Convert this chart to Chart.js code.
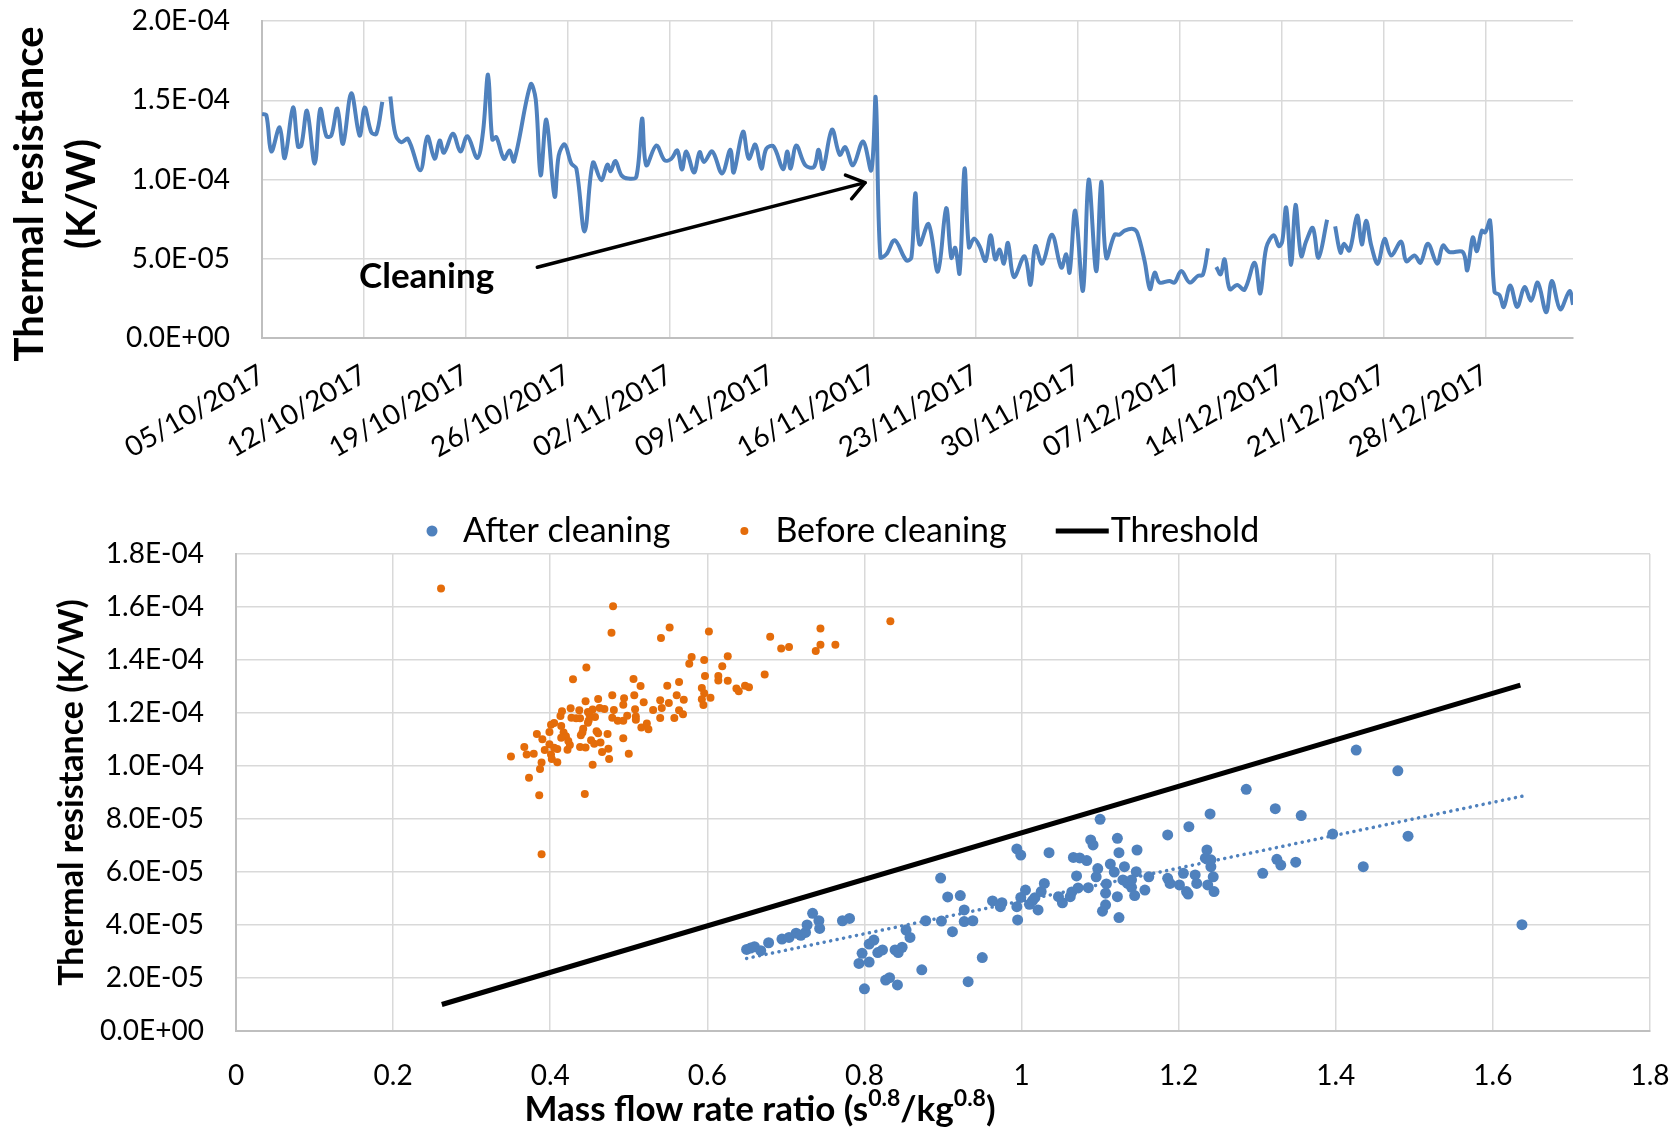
<!DOCTYPE html>
<html>
<head>
<meta charset="utf-8">
<title>Thermal resistance before and after cleaning</title>
<script src="https://cdn.jsdelivr.net/npm/chart.js@4.4.1/dist/chart.umd.min.js"></script>
<style>
  html, body { margin: 0; padding: 0; background: #fff; }
  #wrap { position: relative; width: 1680px; height: 1129px; }
  #topBox { position: absolute; left: 0; top: 0; width: 1680px; height: 480px; }
  #bottomBox { position: absolute; left: 0; top: 480px; width: 1680px; height: 649px; }
</style>
</head>
<body>
<div id="wrap">
  <div id="topBox"><canvas id="timeChart"></canvas></div>
  <div id="bottomBox"><canvas id="flowChart"></canvas></div>
</div>
<script>
// values are in 1e-6 K/W
const UNIT = 1e-6;

// top chart: days since 05/10/2017, null = missing data
const dateTicks = ['05/10/2017', '12/10/2017', '19/10/2017', '26/10/2017', '02/11/2017', '09/11/2017',
  '16/11/2017', '23/11/2017', '30/11/2017', '07/12/2017', '14/12/2017', '21/12/2017', '28/12/2017'];

const dayOffsets = [
  0.00, 0.30, 0.64, 1.21, 1.56, 2.13, 2.47, 2.70, 3.09, 3.62, 4.00, 4.42, 4.76, 5.17, 5.56, 6.13, 6.70, 7.05, 7.50, 7.85, 8.26,
  8.50,
  8.81, 9.15, 9.57, 10.02, 10.87, 11.35, 11.85, 12.20, 12.49, 13.11, 13.62, 14.10, 14.78, 15.17, 15.52, 15.81, 16.09, 16.61,
  17.00, 17.30, 18.44, 18.79, 19.13, 19.52, 20.09, 20.37, 20.78, 21.24, 21.58, 22.15, 22.72, 23.29, 23.71, 23.93, 24.26,
  24.67, 25.12, 25.70, 26.09, 26.38, 27.07, 27.64, 28.10, 28.51, 28.83, 29.13, 29.66, 30.04, 30.34, 30.91, 31.58, 32.15,
  32.38, 33.02, 33.41, 33.87, 34.28, 34.62, 35.12, 35.77, 36.06, 36.29, 36.68, 37.30, 37.89, 38.21, 38.51, 39.13, 39.66,
  40.04, 40.57, 41.26, 41.83, 42.13, 42.45, 42.86, 43.43, 44.23, 44.58, 44.85, 45.14, 45.76, 46.40, 46.97, 47.32, 47.59,
  47.89, 48.23, 48.53, 48.87, 49.26, 49.67, 50.02, 50.34, 50.64, 50.93, 51.21, 51.62, 52.35, 52.76, 53.08, 53.56, 54.23,
  54.87, 55.21, 55.44, 55.83, 56.36, 56.75, 57.27, 57.61, 57.96, 58.53, 58.87, 59.22, 59.79, 60.09, 60.59, 60.96, 61.28,
  61.62, 62.30, 62.65, 63.11, 63.68, 64.25, 64.59, 64.94,
  65.20,
  65.51, 65.81, 66.08, 66.43, 66.95, 67.45, 68.14, 68.53, 68.94, 69.46, 69.81, 70.04, 70.31, 70.65, 70.95, 71.34, 71.68,
  72.14, 72.53, 73.12,
  73.40,
  73.67, 74.04, 74.27, 74.66, 75.18, 75.50, 75.80, 76.15, 76.60, 77.06, 77.52, 78.20, 78.55, 79.12, 79.53, 80.04, 80.68,
  81.07, 81.52, 82.44, 82.74, 83.12, 83.40, 83.74, 83.97, 84.31, 84.61, 84.95, 85.25, 85.69, 86.17, 86.67, 87.13, 87.58,
  88.16, 88.55, 89.12, 89.76, 90.00
];

const resistance = [
  141.3, 140.6, 117.7, 132.9, 113.5, 145.4, 120.8, 121.5, 143.3, 110.0, 144.4, 127.3, 127.7, 144.8, 122.5, 154.4, 127.7, 145.4, 129.8, 128.8, 149.0,
  null,
  152.3, 128.8, 123.5, 125.6, 105.8, 127.1, 113.1, 124.6, 116.9, 128.8, 117.7, 127.3, 113.5, 129.8, 166.2, 125.2, 126.7, 113.1,
  118.3, 111.5, 160.0, 150.6, 102.7, 137.7, 89.2, 115.2, 122.1, 110.0, 106.9, 67.3, 110.6, 99.6, 109.4, 105.2, 111.7,
  102.7, 100.6, 101.7, 138.5, 109.0, 121.5, 112.1, 113.1, 118.3, 106.3, 117.7, 104.4, 117.3, 111.0, 117.7, 103.8, 118.8,
  104.4, 130.2, 113.1, 122.1, 106.9, 119.4, 120.8, 106.5, 117.7, 106.9, 121.5, 109.0, 107.9, 118.8, 106.7, 131.5, 115.6,
  120.4, 109.0, 124.0, 105.8, 151.7, 51.1, 52.8, 61.7, 49.0, 50.8, 91.3, 59.0, 71.9, 41.9, 81.9, 50.6, 56.9,
  40.8, 106.9, 57.3, 62.7, 57.9, 48.6, 64.8, 49.6, 55.8, 46.9, 60.0, 38.5, 51.6, 33.5, 57.9, 46.9, 65.2,
  44.4, 52.8, 41.3, 80.3, 29.8, 100.0, 42.1, 98.5, 50.6, 65.2, 65.2, 67.7, 68.8, 66.3, 48.6, 30.8, 41.3,
  35.0, 36.0, 35.0, 42.3, 35.0, 39.2, 39.8, 56.5,
  null,
  44.8, 40.2, 49.6, 30.8, 33.5, 30.5, 47.5, 28.1, 56.9, 64.8, 57.9, 61.0, 82.3, 46.1, 84.0, 51.7, 61.0,
  69.4, 50.6, 74.6,
  null,
  70.4, 53.8, 59.4, 55.2, 77.3, 59.0, 74.0, 58.3, 46.8, 62.5, 52.1, 60.8, 48.5, 52.1, 47.5, 59.4, 46.9,
  58.3, 54.2, 54.2, 42.7, 63.5, 54.8, 67.7, 66.7, 74.0, 29.2, 27.1, 19.6, 33.2, 19.6, 32.1, 23.6, 35.0,
  16.2, 36.0, 18.1, 29.6, 21.0
];

// bottom chart: mass flow rate ratio vs thermal resistance
const beforeX = [
  0.261, 0.480, 0.478, 0.552, 0.541, 0.602, 0.680, 0.694, 0.704, 0.744, 0.744, 0.738, 0.763, 0.833, 0.580, 0.577, 0.596,
  0.626, 0.619, 0.597, 0.614, 0.614, 0.626, 0.673, 0.637, 0.640, 0.648, 0.653, 0.593, 0.596, 0.604, 0.593, 0.595, 0.446,
  0.429, 0.506, 0.515, 0.549, 0.564, 0.561, 0.570, 0.540, 0.551, 0.542, 0.564, 0.569, 0.558, 0.540, 0.531, 0.519, 0.507,
  0.494, 0.493, 0.508, 0.509, 0.509, 0.498, 0.493, 0.486, 0.479, 0.481, 0.479, 0.469, 0.461, 0.463, 0.454, 0.445, 0.448,
  0.457, 0.448, 0.437, 0.426, 0.433, 0.427, 0.415, 0.413, 0.401, 0.414, 0.399, 0.417, 0.420, 0.414, 0.383, 0.390, 0.399,
  0.405, 0.409, 0.393, 0.367, 0.370, 0.379, 0.350, 0.401, 0.402, 0.409, 0.389, 0.387, 0.373, 0.386, 0.389, 0.422, 0.425,
  0.423, 0.441, 0.439, 0.442, 0.438, 0.445, 0.459, 0.461, 0.452, 0.456, 0.464, 0.473, 0.474, 0.466, 0.475, 0.454, 0.444,
  0.500, 0.493, 0.516, 0.523, 0.525, 0.449, 0.450, 0.438, 0.405
];
const beforeY = [
  167.0, 160.3, 150.3, 152.3, 148.3, 150.8, 148.8, 144.3, 144.9, 151.9, 145.8, 143.4, 145.8, 154.6, 141.1, 138.6, 140.0,
  141.4, 137.6, 134.0, 134.0, 132.3, 132.2, 134.5, 129.2, 128.2, 130.3, 129.7, 129.4, 127.5, 125.8, 125.2, 123.0, 137.2,
  132.7, 132.8, 130.2, 130.3, 131.7, 126.7, 125.0, 124.8, 123.8, 121.9, 121.0, 119.5, 118.1, 118.1, 121.1, 124.1, 126.7,
  125.6, 123.1, 121.4, 118.7, 117.5, 119.0, 117.1, 117.1, 118.2, 121.1, 126.7, 121.5, 125.3, 121.9, 121.3, 124.4, 120.4,
  118.5, 116.3, 121.0, 121.8, 118.0, 118.2, 120.7, 118.9, 115.6, 115.1, 112.8, 112.6, 111.2, 110.7, 112.1, 110.1, 108.2,
  106.9, 106.4, 106.0, 107.2, 104.3, 104.6, 103.6, 104.3, 102.6, 101.4, 101.3, 98.9, 95.6, 89.0, 66.7, 106.1, 107.9,
  109.4, 112.6, 111.6, 114.1, 107.2, 107.0, 113.1, 112.4, 109.7, 108.4, 108.9, 112.1, 106.5, 105.3, 102.6, 100.5, 89.4,
  104.6, 110.5, 114.5, 116.0, 113.9, 117.2, 119.4, 118.0, 116.2
];

const afterX = [
  0.650, 0.655, 0.660, 0.668, 0.678, 0.695, 0.704, 0.713, 0.719, 0.725, 0.727, 0.734, 0.742, 0.743, 0.772, 0.781, 0.793,
  0.800, 0.797, 0.806, 0.806, 0.812, 0.817, 0.823, 0.827, 0.832, 0.839, 0.843, 0.848, 0.842, 0.853, 0.858, 0.873, 0.878,
  0.897, 0.898, 0.906, 0.912, 0.922, 0.927, 0.927, 0.932, 0.938, 0.950, 0.963, 0.975, 0.973, 0.994, 0.995, 0.999, 1.005,
  0.994, 0.999, 1.010, 1.014, 1.021, 1.017, 1.025, 1.029, 1.035, 1.047, 1.052, 1.062, 1.064, 1.072, 1.085, 1.070, 1.066,
  1.074, 1.083, 1.095, 1.097, 1.088, 1.091, 1.100, 1.103, 1.107, 1.107, 1.108, 1.113, 1.118, 1.122, 1.124, 1.124, 1.122,
  1.129, 1.131, 1.135, 1.140, 1.140, 1.144, 1.146, 1.147, 1.157, 1.162, 1.186, 1.186, 1.189, 1.201, 1.206, 1.210, 1.212,
  1.213, 1.221, 1.223, 1.236, 1.234, 1.240, 1.241, 1.237, 1.244, 1.245, 1.241, 1.286, 1.307, 1.323, 1.325, 1.330, 1.349,
  1.356, 1.396, 1.426, 1.435, 1.479, 1.492, 1.637
];
const afterY = [
  30.8, 31.3, 31.8, 30.3, 33.3, 34.7, 35.3, 36.9, 36.1, 37.2, 40.0, 44.4, 41.6, 38.7, 41.6, 42.5, 25.5,
  15.9, 29.3, 26.0, 32.8, 34.3, 29.6, 30.6, 19.2, 20.1, 30.6, 29.6, 31.6, 17.4, 38.1, 35.3, 23.1, 41.6,
  57.7, 41.5, 50.6, 37.5, 51.1, 45.7, 41.3, 18.6, 41.6, 27.7, 49.1, 48.4, 46.9, 46.9, 41.9, 50.4, 53.2,
  68.7, 66.4, 47.8, 49.2, 45.7, 50.3, 52.6, 55.7, 67.3, 50.7, 48.4, 50.7, 52.5, 54.0, 54.1, 58.5, 65.5,
  65.3, 64.3, 58.2, 61.3, 72.1, 70.2, 79.9, 45.2, 47.6, 52.0, 55.5, 63.0, 60.0, 72.7, 67.3, 42.8, 50.7,
  57.0, 62.0, 55.7, 54.2, 57.0, 51.1, 60.1, 68.3, 53.2, 58.2, 74.0, 57.6, 55.7, 55.1, 59.5, 52.6, 51.7,
  77.1, 58.9, 55.7, 68.3, 65.2, 81.9, 62.0, 55.1, 58.2, 52.6, 64.6, 91.2, 59.5, 83.9, 64.8, 62.6, 63.7,
  81.3, 74.3, 106.0, 62.0, 98.2, 73.5, 40.1
];

const thresholdX = [0.262, 1.635];
const thresholdY = [10.0, 130.5];

const BLUE = '#4f81bd';
const ORANGE = '#e46c0a';
const GRID = '#d9d9d9';
Chart.defaults.font.family = 'Lato';
Chart.defaults.color = '#000';

function sci(v) {
  const parts = Number(v).toExponential(1).split('e');
  const e = parseInt(parts[1], 10);
  return parts[0] + 'E' + (e < 0 ? '-' : '+') + String(Math.abs(e)).padStart(2, '0');
}

// least squares fit of the "after cleaning" points (Excel linear trendline)
function linearFit(xs, ys) {
  const n = xs.length;
  let sx = 0, sy = 0, sxx = 0, sxy = 0;
  for (let i = 0; i < n; i++) {
    sx += xs[i]; sy += ys[i]; sxx += xs[i] * xs[i]; sxy += xs[i] * ys[i];
  }
  const slope = (n * sxy - sx * sy) / (n * sxx - sx * sx);
  return { slope: slope, icpt: (sy - slope * sx) / n };
}

// grid settings shared by all axes; invisible ticks give label spacing
// without inflating the layout padding
function gridOpts(tickLen) {
  return { color: GRID, lineWidth: 1.5, drawTicks: true, tickLength: tickLen, tickColor: 'rgba(0,0,0,0)' };
}

const sideTitle = {
  id: 'sideTitle',
  afterDraw(chart) {
    const ctx = chart.ctx;
    ctx.save();
    ctx.translate(0, 194);
    ctx.rotate(-Math.PI / 2);
    ctx.font = 'bold 40px Lato';
    ctx.fillStyle = '#000';
    ctx.textAlign = 'center';
    ctx.textBaseline = 'middle';
    ctx.fillText('Thermal resistance', 0, 30);
    ctx.fillText('(K/W)', 0, 82);
    ctx.restore();
  }
};

const cleaningNote = {
  id: 'cleaningNote',
  afterDatasetsDraw(chart) {
    const { ctx, scales: { x, y } } = chart;
    const x0 = x.getPixelForValue(18.9), y0 = y.getPixelForValue(44.6 * UNIT);
    const x1 = x.getPixelForValue(41.4), y1 = y.getPixelForValue(98 * UNIT);
    ctx.save();
    ctx.strokeStyle = '#000';
    ctx.lineWidth = 3.5;
    ctx.lineCap = 'round';
    ctx.lineJoin = 'round';
    ctx.beginPath();
    ctx.moveTo(x0, y0);
    ctx.lineTo(x1, y1);
    ctx.stroke();
    const ang = Math.atan2(y1 - y0, x1 - x0);
    ctx.beginPath();
    ctx.moveTo(x1 - 21 * Math.cos(ang - 0.62), y1 - 21 * Math.sin(ang - 0.62));
    ctx.lineTo(x1, y1);
    ctx.lineTo(x1 - 21 * Math.cos(ang + 0.62), y1 - 21 * Math.sin(ang + 0.62));
    ctx.stroke();
    ctx.font = 'bold 35px Lato';
    ctx.fillStyle = '#000';
    ctx.textAlign = 'center';
    ctx.textBaseline = 'middle';
    ctx.fillText('Cleaning', x.getPixelForValue(11.3), y.getPixelForValue(38.5 * UNIT));
    ctx.restore();
  }
};

const flowLegend = {
  id: 'flowLegend',
  afterDraw(chart) {
    const ctx = chart.ctx;
    const items = chart.data.datasets.filter(ds => !ds.noLegend);
    const y = 51;
    const gaps = [69, 49];
    ctx.save();
    ctx.font = '34px Lato';
    ctx.textBaseline = 'middle';
    let x = 427;
    items.forEach((ds, i) => {
      let w;
      if (ds.showLine) {
        ctx.strokeStyle = ds.borderColor;
        ctx.lineWidth = ds.borderWidth;
        ctx.beginPath();
        ctx.moveTo(x, y);
        ctx.lineTo(x + 53, y);
        ctx.stroke();
        ctx.fillStyle = '#000';
        ctx.fillText(ds.label, x + 55, y);
        w = 55 + ctx.measureText(ds.label).width;
      } else {
        ctx.fillStyle = ds.backgroundColor;
        ctx.beginPath();
        ctx.arc(x + 5, y, ds.pointRadius, 0, Math.PI * 2);
        ctx.fill();
        ctx.fillStyle = '#000';
        ctx.fillText(ds.label, x + 36, y);
        w = 36 + ctx.measureText(ds.label).width;
      }
      x += w + (gaps[i] || 0);
    });
    ctx.restore();
  }
};

const massFlowTitle = {
  id: 'massFlowTitle',
  afterDraw(chart) {
    const ctx = chart.ctx;
    const parts = [['Mass flow rate ratio (s', false], ['0.8', true], ['/kg', false], ['0.8', true], [')', false]];
    const big = 'bold 35px Lato', small = 'bold 23px Lato';
    ctx.save();
    let total = 0;
    parts.forEach(p => { ctx.font = p[1] ? small : big; total += ctx.measureText(p[0]).width; });
    let x = 760 - total / 2;
    const base = 641;
    ctx.fillStyle = '#000';
    ctx.textBaseline = 'alphabetic';
    parts.forEach(p => {
      ctx.font = p[1] ? small : big;
      ctx.fillText(p[0], x, p[1] ? base - 15 : base);
      x += ctx.measureText(p[0]).width;
    });
    ctx.restore();
  }
};

const timeData = dayOffsets.map((d, i) => ({ x: d, y: resistance[i] === null ? null : resistance[i] * UNIT }));

new Chart(document.getElementById('timeChart'), {
  type: 'line',
  data: {
    datasets: [{
      label: 'Thermal resistance',
      data: timeData,
      borderColor: BLUE,
      borderWidth: 4,
      pointRadius: 0,
      tension: 0.35,
      spanGaps: false
    }]
  },
  options: {
    responsive: true,
    maintainAspectRatio: false,
    animation: false,
    layout: { padding: { top: 21, right: 107, left: 0, bottom: 0 } },
    plugins: { legend: { display: false }, tooltip: { enabled: false } },
    scales: {
      x: {
        type: 'linear',
        min: 0,
        max: 90,
        grid: gridOpts(18),
        border: { color: '#bfbfbf', width: 2 },
        afterBuildTicks: scale => { scale.ticks = dateTicks.map((_, i) => ({ value: i * 7 })); },
        afterFit: scale => { scale.height = 142; },
        ticks: {
          minRotation: 30,
          maxRotation: 30,
          padding: 2,
          font: { size: 28 },
          callback: v => dateTicks[Math.round(v / 7)]
        }
      },
      y: {
        min: 0,
        max: 2e-4,
        grid: gridOpts(30),
        border: { color: '#bfbfbf', width: 2 },
        afterFit: scale => { scale.width = 262; },
        ticks: { stepSize: 5e-5, padding: 2, font: { size: 28 }, callback: sci }
      }
    }
  },
  plugins: [cleaningNote, sideTitle]
});

const fit = linearFit(afterX, afterY);
const trendX = [Math.min(...afterX), Math.max(...afterX)];

new Chart(document.getElementById('flowChart'), {
  type: 'scatter',
  data: {
    datasets: [
      {
        label: 'After cleaning',
        data: afterX.map((v, i) => ({ x: v, y: afterY[i] * UNIT })),
        backgroundColor: BLUE,
        borderWidth: 0,
        pointRadius: 5.5
      },
      {
        label: 'Before cleaning',
        data: beforeX.map((v, i) => ({ x: v, y: beforeY[i] * UNIT })),
        backgroundColor: ORANGE,
        borderWidth: 0,
        pointRadius: 4
      },
      {
        label: 'Threshold',
        data: thresholdX.map((v, i) => ({ x: v, y: thresholdY[i] * UNIT })),
        showLine: true,
        borderColor: '#000',
        backgroundColor: '#000',
        borderWidth: 5,
        pointRadius: 0
      },
      {
        label: 'Linear (After cleaning)',
        noLegend: true,
        data: trendX.map(v => ({ x: v, y: (fit.icpt + fit.slope * v) * UNIT })),
        showLine: true,
        borderColor: BLUE,
        borderWidth: 3.5,
        borderDash: [0.1, 6.5],
        borderCapStyle: 'round',
        pointRadius: 0
      }
    ]
  },
  options: {
    responsive: true,
    maintainAspectRatio: false,
    animation: false,
    layout: { padding: { top: 74, right: 30, left: 0, bottom: 0 } },
    plugins: { legend: { display: false }, tooltip: { enabled: false } },
    scales: {
      x: {
        type: 'linear',
        min: 0,
        max: 1.8,
        grid: gridOpts(26),
        border: { color: '#bfbfbf', width: 2 },
        afterFit: scale => { scale.height = 98; },
        ticks: { stepSize: 0.2, padding: 2, font: { size: 28 }, callback: v => String(Number(v.toFixed(1))) }
      },
      y: {
        min: 0,
        max: 1.8e-4,
        grid: gridOpts(30),
        border: { color: '#bfbfbf', width: 2 },
        afterFit: scale => { scale.width = 236; },
        ticks: { stepSize: 2e-5, padding: 2, font: { size: 28 }, callback: sci },
        title: {
          display: true,
          text: 'Thermal resistance (K/W)',
          font: { size: 34, weight: 'bold' },
          padding: { top: 52, bottom: 0 }
        }
      }
    }
  },
  plugins: [flowLegend, massFlowTitle]
});
</script>
</body>
</html>
